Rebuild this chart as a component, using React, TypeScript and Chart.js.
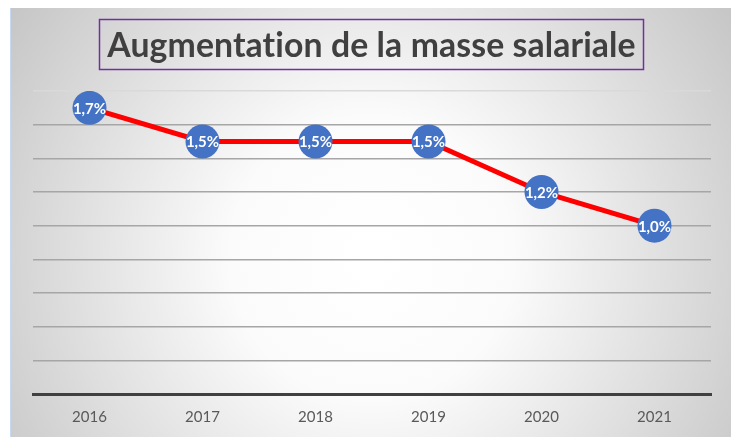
import React, { useEffect, useRef } from "react";
import { Chart, registerables } from "chart.js";

Chart.register(...registerables);

const years = ["2016", "2017", "2018", "2019", "2020", "2021"];
const increase = [1.7, 1.5, 1.5, 1.5, 1.2, 1.0];
const title = "Augmentation de la masse salariale";

const FONT = "Lato, 'Open Sans', sans-serif";

const backgroundPlugin = {
  id: "bgGradient",
  beforeDraw(chart: any) {
    const { ctx, width, height } = chart;
    ctx.save();
    const g = ctx.createRadialGradient(width * 0.5, height * 0.58, 10, width * 0.5, height * 0.58, width * 0.62);
    g.addColorStop(0, "#ffffff");
    g.addColorStop(0.3, "#fbfbfb");
    g.addColorStop(1, "#c4c4c4");
    ctx.fillStyle = g;
    ctx.fillRect(0, 0, width, height);
    ctx.strokeStyle = "#c6d9f0";
    ctx.lineWidth = 1;
    ctx.beginPath();
    ctx.moveTo(0.5, 0);
    ctx.lineTo(0.5, height);
    ctx.moveTo(width - 0.5, 0);
    ctx.lineTo(width - 0.5, height);
    ctx.stroke();
    ctx.restore();
  },
};

const titlePlugin = {
  id: "boxTitle",
  afterDraw(chart: any) {
    const { ctx, width } = chart;
    ctx.save();
    try {
      (ctx as any).letterSpacing = "0.1px";
    } catch (e) {}
    const cx = width / 2;
    const targetW = 529;
    let size = 30;
    ctx.font = `bold ${size}px ${FONT}`;
    const w = ctx.measureText(title).width;
    size = size * (targetW / w);
    ctx.font = `bold ${size}px ${FONT}`;
    ctx.fillStyle = "#404040";
    ctx.textAlign = "center";
    ctx.textBaseline = "middle";
    ctx.fillText(title, cx, 38);
    ctx.strokeStyle = "#7030A0";
    ctx.lineWidth = 1.5;
    ctx.strokeRect(cx - 272, 11.5, 544, 50);
    ctx.restore();
  },
};

const labelPlugin = {
  id: "pointLabels",
  afterDatasetsDraw(chart: any) {
    const { ctx } = chart;
    const meta = chart.getDatasetMeta(0);
    ctx.save();
    ctx.fillStyle = "#ffffff";
    ctx.font = `bold 15px ${FONT}`;
    ctx.textAlign = "center";
    ctx.textBaseline = "middle";
    meta.data.forEach((pt: any, i: number) => {
      const v = increase[i].toFixed(1).replace(".", ",") + "%";
      ctx.fillText(v, pt.x, pt.y + 1);
    });
    ctx.restore();
  },
};

export default function App() {
  const ref = useRef<HTMLCanvasElement | null>(null);
  useEffect(() => {
    if (!ref.current) return;
    const chart = new Chart(ref.current, {
      type: "line",
      data: {
        labels: years,
        datasets: [
          {
            data: increase,
            borderColor: "#ff0000",
            borderWidth: 5,
            pointRadius: 17,
            pointHoverRadius: 17,
            pointBackgroundColor: "#4472C4",
            pointBorderWidth: 0,
            tension: 0,
          },
        ],
      },
      options: {
        responsive: false,
        animation: false,
        layout: { padding: { top: 83, left: 23, right: 22, bottom: 0 } },
        plugins: { legend: { display: false }, tooltip: { enabled: false }, title: { display: false } },
        scales: {
          x: {
            offset: true,
            grid: { display: false, drawTicks: false },
            border: { display: true, color: "#404040", width: 3 },
            ticks: { color: "#595959", font: { family: FONT, size: 15 }, padding: 14 },
            afterFit(scale: any) {
              scale.height = 44;
            },
          },
          y: {
            min: 0,
            max: 1.8,
            ticks: { display: false, stepSize: 0.2 },
            border: { display: false },
            grid: {
              drawTicks: false,
              lineWidth: 1.5,
              color: (c: any) => (c.index === 9 ? "#d9d9d9" : "#a6a6a6"),
            },
            afterFit(scale: any) {
              scale.width = 0;
            },
          },
        },
      },
      plugins: [backgroundPlugin, titlePlugin, labelPlugin],
    });
    return () => chart.destroy();
  }, []);
  return (
    <div style={{ marginLeft: 2, width: 723, height: 430 }}>
      <canvas ref={ref} width={723} height={430} style={{ display: "block" }} />
    </div>
  );
}
